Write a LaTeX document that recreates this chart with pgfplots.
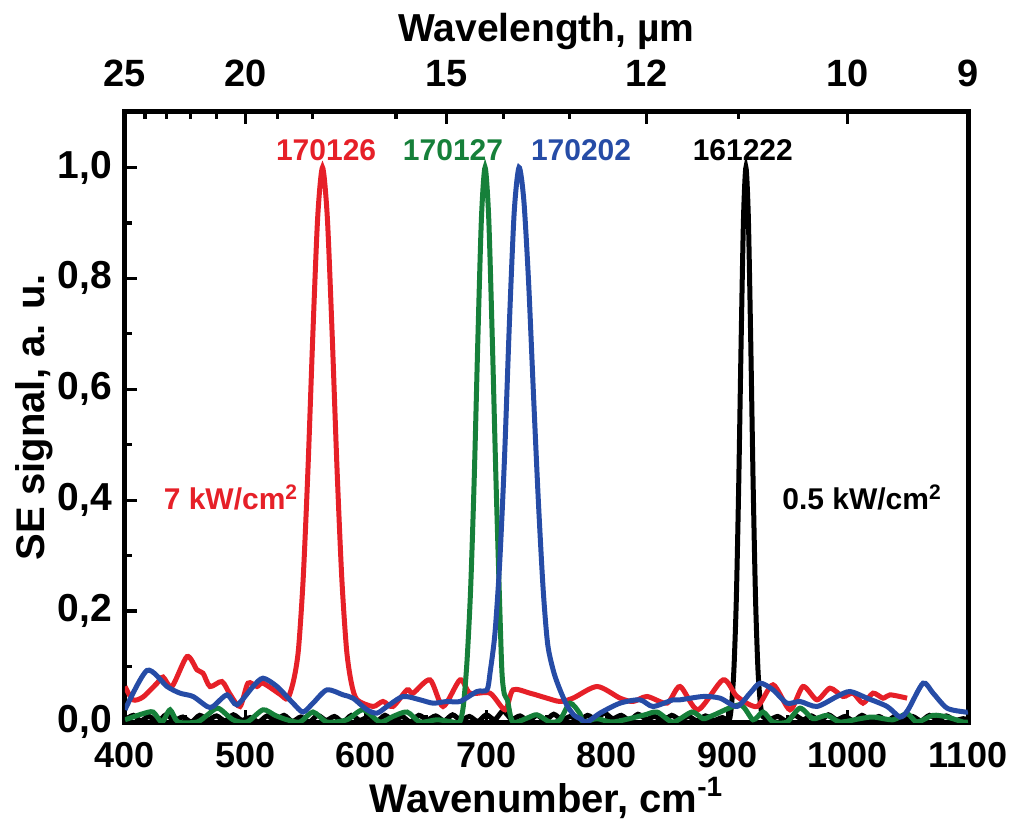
\documentclass[border=0pt]{standalone}
\usepackage{fontspec}
\setmainfont{Liberation Sans}
\usepackage{pgfplots}
\pgfplotsset{compat=1.18}
\definecolor{cred}{RGB}{230,32,40}
\definecolor{cgreen}{RGB}{22,128,58}
\definecolor{cblue}{RGB}{38,76,166}
\begin{document}
\begin{tikzpicture}
\useasboundingbox (-62.5pt,-51pt) rectangle (445.5pt,361pt);
% top axis (wavelength)
\begin{axis}[
 at={(0,0)}, anchor=south west,
 scale only axis, width=421.5pt, height=305pt,
 xmin=400, xmax=1100, ymin=0, ymax=1.1,
 hide y axis,
 axis line style={line width=2.5pt},
 xtick pos=right, xticklabel pos=right, tick align=inside,
 xtick={400,500,666.667,833.333,1000,1100},
 xticklabels={25,20,15,12,10,9},
 minor xtick={416.667,434.783,454.545,476.19,526.316,555.556,625,714.286,769.231,909.091},
 major tick length=6pt, minor tick length=3.5pt,
 every tick/.style={line width=1.6pt, black},
 /pgf/number format/assume math mode=true,
 xticklabel style={font=\bfseries\fontsize{19}{19}\selectfont, yshift=9pt},
 xlabel={Wavelength, µm},
 xlabel style={font=\bfseries\fontsize{19.5}{19.5}\selectfont, at={([yshift=35pt]axis description cs:0.5,1)}, anchor=base},
]
\addplot[draw=none] coordinates {(400,0) (1100,0)};
\end{axis}
\begin{axis}[
 at={(0,0)}, anchor=south west,
 scale only axis, width=421.5pt, height=305pt,
 xmin=400, xmax=1100, ymin=0, ymax=1.1,
 axis line style={line width=2.5pt},
 xtick={400,500,600,700,800,900,1000,1100},
 minor xtick={450,550,650,750,850,950,1050},
 ytick={0,0.2,0.4,0.6,0.8,1.0},
 minor ytick={0.1,0.3,0.5,0.7,0.9},
 xtick pos=left, ytick pos=left, tick align=inside,
 major tick length=6pt, minor tick length=3.5pt,
 every tick/.style={line width=1.6pt, black},
 /pgf/number format/assume math mode=true,
 xticklabel style={font=\bfseries\fontsize{18}{18}\selectfont, yshift=-6.5pt, /pgf/number format/.cd, fixed, 1000 sep={}},
 yticklabel style={font=\bfseries\fontsize{19.5}{19.5}\selectfont, xshift=-3pt, /pgf/number format/.cd, use comma, fixed, fixed zerofill, precision=1},
 xlabel={Wavenumber, cm\textsuperscript{-1}},
 xlabel style={font=\bfseries\fontsize{20}{20}\selectfont, at={([yshift=-45pt]axis description cs:0.5,0)}, anchor=base},
 ylabel={SE signal, a. u.},
 ylabel style={font=\bfseries\fontsize{20}{20}\selectfont, at={([xshift=-40pt]axis description cs:0,0.5)}, anchor=base},
 every axis plot/.append style={line width=2.5pt, smooth, tension=0.45},
 clip=true,
]
% black 161222
\addplot[black] coordinates {
(400,0.004)(407,0.012)(413,0.002)(420,0.010)(427,0.0)(434,0.013)(441,0.003)(448,0.009)(455,0.0)(462,0.012)
(469,0.004)(476,0.011)(483,0.002)(490,0.013)(497,0.003)(504,0.008)(511,0.0)(518,0.011)(525,0.003)(532,0.012)
(539,0.001)(546,0.009)(553,0.0)(560,0.012)(567,0.003)(574,0.010)(581,0.0)(588,0.012)(595,0.003)(602,0.009)
(609,0.001)(616,0.012)(623,0.002)(630,0.010)(637,0.0)(644,0.012)(651,0.004)(658,0.011)(665,0.002)(672,0.013)
(679,0.003)(686,0.010)(693,0.001)(700,0.013)(707,0.004)(714,0.020)(721,0.005)(728,0.011)(735,0.002)(742,0.012)
(749,0.003)(756,0.014)(763,0.004)(770,0.010)(777,0.002)(784,0.012)(791,0.005)(798,0.016)(805,0.006)(812,0.012)
(819,0.003)(826,0.014)(833,0.005)(840,0.010)(847,0.002)(854,0.012)(861,0.004)(868,0.010)(875,0.002)(882,0.011)
(889,0.003)(896,0.008)(901.6,0.003)(903.6,0.03)(905.6,0.094)(907.6,0.22)(909.6,0.427)(911.6,0.685)(913.6,0.91)
(915.6,1.0)(917.6,0.91)(919.6,0.685)(921.6,0.427)(923.6,0.22)(925.6,0.094)(927.6,0.033)(929.6,0.01)
(935,0.004)(942,0.010)(949,0.002)(956,0.012)(963,0.004)(970,0.011)(977,0.002)(984,0.013)(991,0.004)(998,0.010)
(1005,0.002)(1012,0.012)(1019,0.003)(1026,0.010)(1033,0.002)(1040,0.011)(1047,0.003)(1054,0.010)(1061,0.002)
(1068,0.012)(1075,0.004)(1082,0.011)(1089,0.003)(1096,0.006)(1100,0.004)};
% red 170126
\addplot[cred] coordinates {
(400,0.064)(406.6,0.040)(414.9,0.045)(426.6,0.070)(431.6,0.081)(439.0,0.064)(451.5,0.118)(459.8,0.094)
(464.8,0.088)(470.6,0.064)(480.5,0.073)(487.2,0.050)(495.5,0.028)(502.1,0.070)(509.6,0.064)(514.6,0.070)
(528.7,0.050)(535,0.042)(540,0.075)(544,0.13)(548,0.26)(552,0.46)(556,0.70)(560,0.91)(564,1.0)(568,0.91)
(572,0.70)(576,0.46)(580,0.26)(584,0.13)(588,0.07)(592.7,0.040)(606,0.028)(614.2,0.037)(622.5,0.028)
(634.2,0.058)(639.2,0.052)(653.3,0.076)(664.1,0.028)(678.2,0.076)(686.5,0.052)(703.1,0.052)(715.6,0.022)
(722.2,0.058)(736.3,0.052)(750.4,0.043)(761.2,0.037)(772,0.043)(792,0.064)(811.1,0.043)(821.9,0.037)
(833.5,0.046)(850.1,0.034)(860.9,0.064)(875.8,0.022)(896.6,0.076)(908.2,0.046)(924.8,0.028)(938.1,0.067)
(952.2,0.022)(963,0.064)(974.6,0.040)(985.4,0.061)(996.2,0.046)(1004.5,0.052)(1012.8,0.034)(1021.1,0.052)
(1029.5,0.043)(1035.3,0.049)(1049.4,0.043)};
% green 170127
\addplot[cgreen] coordinates {
(400,0.004)(414.9,0.015)(423.3,0.018)(430.7,0.0)(437.4,0.022)(444,0.0)(459.8,0.0)(468.1,0.012)(477.2,0.025)
(489.7,0.004)(501.3,0.0)(514.6,0.022)(524.6,0.012)(534.5,0.004)(545.3,0.0)(556.1,0.018)(567.7,0.0)
(584.3,0.004)(597.6,0.022)(611.7,0.0)(622.5,0.010)(634.2,0.018)(645,0.0)(659.1,0.004)(672.4,0.0)
(678,0.0)(681,0.03)(684,0.11)(687,0.24)(690,0.44)(693,0.69)(696,0.91)(699,1.0)(702,0.91)(705,0.69)
(708,0.44)(711,0.22)(713,0.09)(715,0.05)(717.5,0.04)(722,0.0)(733.8,0.007)(742.1,0.013)(752.9,0.0)
(761.2,0.004)(769.5,0.034)(777.8,0.015)(780.3,0.0)(791.9,0.006)(805.2,0.0)(830.1,0.012)(841.8,0.018)
(855,0.0)(870.8,0.018)(880,0.006)(888.3,0.012)(910.7,0.031)(921.5,0.004)(929.8,0.018)(938.1,0.0)
(949.7,0.0)(960.5,0.025)(971.3,0.006)(982.9,0.012)(993.7,0.0)(1010.3,0.006)(1021.1,0.009)(1037.7,0.004)
(1049.4,0.015)(1057.7,0.0)(1071,0.012)(1082.6,0.009)(1095.9,0.0)(1100,0.0)};
% blue 170202
\addplot[cblue] coordinates {
(400,0.022)(418.3,0.093)(434.9,0.064)(445.7,0.052)(456.5,0.046)(468.1,0.028)(473.1,0.028)(484.7,0.049)
(493,0.031)(506.3,0.064)(514.6,0.079)(526.2,0.064)(539.5,0.034)(547.8,0.018)(556.1,0.034)(567.7,0.058)
(581,0.049)(589.3,0.043)(601,0.022)(609.3,0.016)(617.6,0.028)(630.9,0.046)(645,0.040)(655.8,0.034)
(667.4,0.037)(678.2,0.037)(692.3,0.055)(700.6,0.058)(703.2,0.09)(707.2,0.16)(711.2,0.29)(715.2,0.48)
(719.2,0.72)(723.2,0.92)(727.2,1.0)(731.2,0.94)(735.2,0.79)(739.2,0.59)(743.2,0.40)(747.2,0.24)
(751,0.14)(756,0.09)(761.2,0.058)(767,0.03)(773,0.012)(778,0.006)(783.6,0.0)(794.4,0.016)(811.1,0.034)
(827.6,0.040)(838.4,0.028)(855,0.040)(860.9,0.040)(880,0.046)(894.1,0.043)(908.2,0.028)(919,0.052)
(927.3,0.070)(938.1,0.058)(949.7,0.034)(960.5,0.037)(974.6,0.028)(991.2,0.046)(1002,0.055)(1016.2,0.043)
(1032.8,0.028)(1043.6,0.009)(1050.2,0.022)(1062.7,0.070)(1071,0.052)(1082.6,0.025)(1097.5,0.018)(1100,0.018)};
\node[text=cred, font=\bfseries\fontsize{15}{15}\selectfont, anchor=base] at (axis cs:567,1.012) {170126};
\node[text=cgreen, font=\bfseries\fontsize{15}{15}\selectfont, anchor=base] at (axis cs:672.4,1.012) {170127};
\node[text=cblue, font=\bfseries\fontsize{15}{15}\selectfont, anchor=base] at (axis cs:778.7,1.012) {170202};
\node[text=black, font=\bfseries\fontsize{15}{15}\selectfont, anchor=base] at (axis cs:913,1.012) {161222};
\node[text=cred, font=\bfseries\fontsize{15}{15}\selectfont, anchor=base] at (axis cs:488,0.383) {7 kW/cm\textsuperscript{2}};
\node[text=black, font=\bfseries\fontsize{15}{15}\selectfont, anchor=base] at (axis cs:1012,0.383) {0.5 kW/cm\textsuperscript{2}};
\end{axis}
\end{tikzpicture}
\end{document}
